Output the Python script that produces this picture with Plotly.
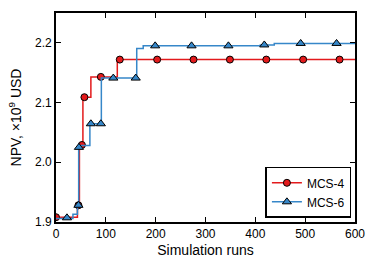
import plotly.graph_objects as go

# MCS-4 step curve (best-so-far NPV) and sampled markers
mcs4_step_x = [0, 43, 47, 54, 70, 123, 600]
mcs4_step_y = [1.908, 1.928, 2.029, 2.109, 2.143, 2.172, 2.172]
mcs4_mark_x = [0, 45, 52, 57, 90, 128, 203, 276, 349, 422, 496, 569]
mcs4_mark_y = [1.908, 1.928, 2.029, 2.109, 2.143, 2.172, 2.172, 2.172, 2.172, 2.172, 2.172, 2.172]

# MCS-6 step curve and sampled markers
mcs6_step_x = [0, 34, 43, 45.5, 50, 68, 91, 162, 175, 410, 438, 600]
mcs6_step_y = [1.906, 1.913, 1.928, 2.025, 2.028, 2.0645, 2.141, 2.1905, 2.195, 2.1965, 2.199, 2.199]
mcs6_mark_x = [22, 45, 46, 70, 90, 115, 160, 199, 272, 346, 418, 491, 563]
mcs6_mark_y = [1.907, 1.928, 2.025, 2.0645, 2.0645, 2.141, 2.141, 2.195, 2.195, 2.195, 2.1965, 2.199, 2.199]

x_ticks = [0, 100, 200, 300, 400, 500, 600]
y_ticks = [1.9, 2.0, 2.1, 2.2]

RED = "#e31a1c"
BLUE = "#3687c9"
FONT = "Liberation Sans, Arial, sans-serif"

fig = go.Figure()

series = [
    ("MCS-4", mcs4_step_x, mcs4_step_y, mcs4_mark_x, mcs4_mark_y, RED, "circle", 7),
    ("MCS-6", mcs6_step_x, mcs6_step_y, mcs6_mark_x, mcs6_mark_y, BLUE, "triangle-up", 8),
]
for name, sx, sy, mx, my, col, sym, ms in series:
    fig.add_trace(go.Scatter(x=sx, y=sy, mode="lines", line=dict(color=col, width=1.5, shape="hv"),
                             showlegend=False, hoverinfo="skip"))
    fig.add_trace(go.Scatter(x=mx, y=my, mode="markers",
                             marker=dict(color=col, symbol=sym, size=ms, line=dict(color="black", width=1)),
                             showlegend=False))
    fig.add_trace(go.Scatter(x=[None], y=[None], mode="lines+markers", name=name,
                             line=dict(color=col, width=1.5),
                             marker=dict(color=col, symbol=sym, size=ms, line=dict(color="black", width=1))))

fig.update_layout(
    width=374, height=262,
    margin=dict(l=56, r=19, t=13, b=40, autoexpand=False),
    paper_bgcolor="white", plot_bgcolor="white",
    font=dict(family=FONT, size=12, color="black"),
    legend=dict(x=0.988, y=0.02, xanchor="right", yanchor="bottom",
                bordercolor="black", borderwidth=1.5, bgcolor="white",
                font=dict(size=12), tracegroupgap=0, itemwidth=30),
)
fig.update_xaxes(range=[0, 600], tickvals=x_ticks, ticks="inside", ticklen=5, tickcolor="black",
                 showline=True, linecolor="black", linewidth=1.6, mirror="ticks",
                 showgrid=False, zeroline=False, automargin=False,
                 title=dict(text="Simulation runs", standoff=5),
                 tickfont=dict(size=12))
fig.update_yaxes(range=[1.9, 2.25], tickvals=y_ticks, tickformat=".1f", ticks="inside", ticklen=5,
                 tickcolor="black", showline=True, linecolor="black", linewidth=1.6, mirror="ticks",
                 showgrid=False, zeroline=False, automargin=False,
                 title=dict(text="NPV, ×10<sup>9</sup> USD", standoff=10),
                 tickfont=dict(size=12))

fig.write_html("out.html", config={"displayModeBar": False},
               post_script="document.body.style.margin='0';document.body.style.overflow='hidden';")
